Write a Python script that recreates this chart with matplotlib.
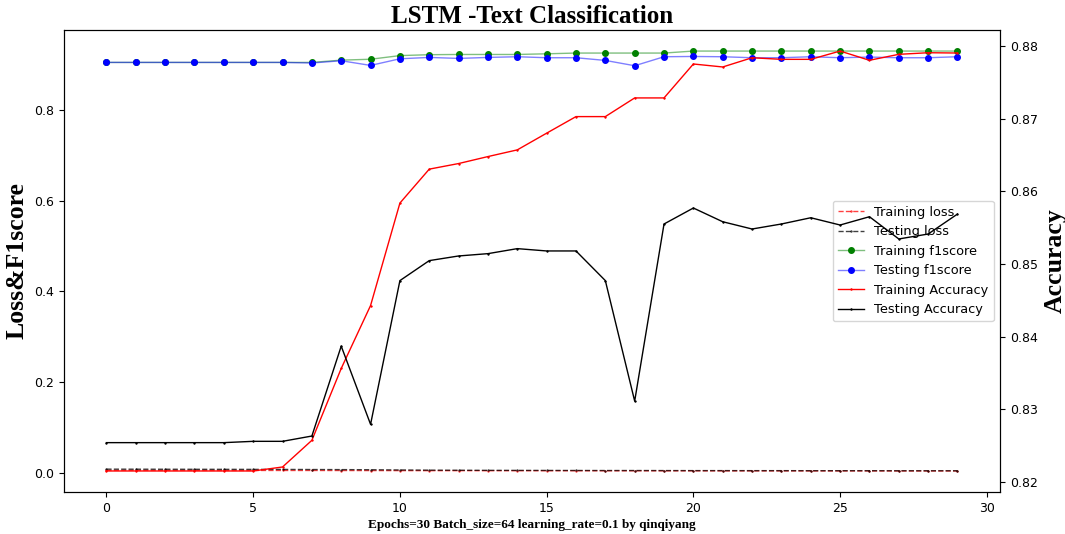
import matplotlib
matplotlib.use("Agg")
import matplotlib.pyplot as plt

epochs = list(range(30))

train_loss = [0.0062, 0.0062, 0.0061, 0.0061, 0.0060, 0.0060, 0.0059, 0.0059, 0.0058, 0.0057,
              0.0056, 0.0055, 0.0055, 0.0054, 0.0054, 0.0053, 0.0053, 0.0052, 0.0052, 0.0051,
              0.0051, 0.0050, 0.0050, 0.0050, 0.0049, 0.0049, 0.0049, 0.0048, 0.0048, 0.0048]
test_loss = [0.0088, 0.0087, 0.0086, 0.0085, 0.0084, 0.0083, 0.0082, 0.0080, 0.0078, 0.0075,
             0.0070, 0.0066, 0.0064, 0.0062, 0.0061, 0.0060, 0.0059, 0.0058, 0.0058, 0.0057,
             0.0056, 0.0056, 0.0055, 0.0055, 0.0054, 0.0054, 0.0054, 0.0053, 0.0053, 0.0053]

train_f1 = [0.904, 0.904, 0.904, 0.904, 0.904, 0.904, 0.904, 0.904, 0.909, 0.911,
            0.919, 0.921, 0.9215, 0.9215, 0.9215, 0.923, 0.9246, 0.9246, 0.9246, 0.9246,
            0.929, 0.929, 0.929, 0.929, 0.929, 0.929, 0.929, 0.929, 0.929, 0.929]
test_f1 = [0.904, 0.904, 0.904, 0.904, 0.904, 0.904, 0.904, 0.9027, 0.9077, 0.8974,
           0.912, 0.915, 0.9128, 0.915, 0.9165, 0.9143, 0.9143, 0.9084, 0.8967, 0.9165,
           0.9171, 0.9165, 0.9143, 0.9143, 0.9165, 0.9143, 0.9158, 0.9143, 0.9143, 0.9165]

train_acc = [0.82152, 0.82152, 0.82152, 0.82152, 0.82152, 0.82152, 0.82207, 0.82574, 0.83563, 0.84429,
             0.85839, 0.86306, 0.86383, 0.86479, 0.86571, 0.86801, 0.87029, 0.87029, 0.87286, 0.87286,
             0.87753, 0.87712, 0.87839, 0.87817, 0.87817, 0.87931, 0.87804, 0.87886, 0.87908, 0.87904]
test_acc = [0.82542, 0.82542, 0.82542, 0.82542, 0.82542, 0.82560, 0.82560, 0.82633, 0.83870, 0.82794,
            0.84772, 0.85047, 0.85111, 0.85143, 0.85212, 0.85180, 0.85180, 0.84772, 0.83114, 0.85551,
            0.85771, 0.85582, 0.85482, 0.85551, 0.85637, 0.85537, 0.85651, 0.85345, 0.85413, 0.85688]

serif = ["Liberation Serif", "DejaVu Serif"]

fig = plt.figure(figsize=(10.65, 5.34), dpi=100)
ax1 = fig.add_axes([0.060, 0.0787, 0.879, 0.865])
ax2 = ax1.twinx()

l1, = ax1.plot(epochs, train_loss, linestyle="--", color=(1, 0, 0, 0.75), lw=1.0,
               marker="+", markersize=2, label="Training loss")
l2, = ax1.plot(epochs, test_loss, linestyle="--", color=(0, 0, 0, 0.75), lw=1.0,
               marker="+", markersize=2, label="Testing loss")
l3, = ax1.plot(epochs, train_f1, color=(0, 0.5, 0, 0.5), lw=1.0, marker="o", markersize=4,
               markerfacecolor="g", markeredgecolor="g", label="Training f1score")
l4, = ax1.plot(epochs, test_f1, color=(0, 0, 1, 0.5), lw=1.0, marker="o", markersize=4,
               markerfacecolor="b", markeredgecolor="b", label="Testing f1score")

l5, = ax2.plot(epochs, train_acc, color="red", lw=1.0, marker="+", markersize=2,
               label="Training Accuracy")
l6, = ax2.plot(epochs, test_acc, color="black", lw=1.0, marker="+", markersize=2,
               label="Testing Accuracy")

ax1.set_ylabel("Loss&F1score", family=serif, fontweight="bold", fontsize=18.5)
ax2.set_ylabel("Accuracy", family=serif, fontweight="bold", fontsize=18.5)
ax1.set_xlabel("Epochs=30 Batch_size=64 learning_rate=0.1 by qinqiyang",
               family=serif, fontweight="bold", fontsize=9.5, labelpad=3)
ax1.set_title("LSTM -Text Classification", family=serif, fontweight="bold", fontsize=18, pad=5)

ax1.tick_params(labelsize=9)
ax2.tick_params(labelsize=9)

ax1.legend(handles=[l1, l2, l3, l4, l5, l6], loc="center right", fontsize=9.3)

fig.savefig("out.png", dpi=100)
